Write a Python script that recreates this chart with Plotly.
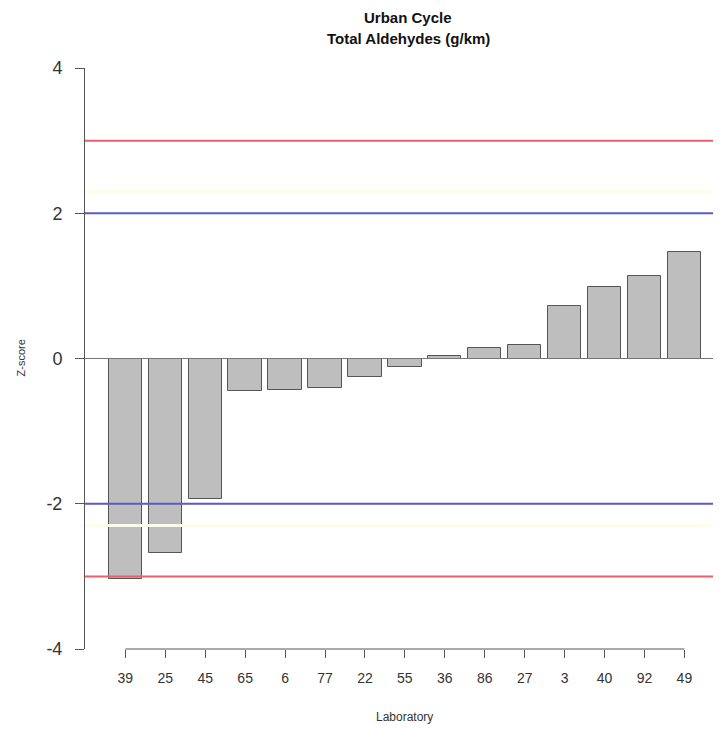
import plotly.graph_objects as go

# laboratories in plotted order and their z-scores
labs = ["39", "25", "45", "65", "6", "77", "22", "55", "36", "86", "27", "3", "40", "92", "49"]
zscores = [-3.03, -2.68, -1.93, -0.45, -0.43, -0.40, -0.26, -0.12, 0.03, 0.14, 0.18, 0.72, 0.99, 1.13, 1.46]

# reference lines
red_lines = [3, -3]
blue_lines = [2, -2]
yellow_lines = [2.3, -2.3]

yticks = [-4, -2, 0, 2, 4]

# R barplot style positions (width 1, space 0.2)
xpos = [0.7 + 1.2 * i for i in range(len(labs))]

fig = go.Figure()
fig.add_trace(go.Bar(x=xpos, y=zscores, width=1.0,
                     marker=dict(color="#BEBEBE", line=dict(color="#555555", width=1)),
                     showlegend=False, hoverinfo="y"))

shapes = []
for v in yellow_lines:
    shapes.append(dict(type="line", xref="paper", yref="y", x0=0, x1=1, y0=v, y1=v,
                       line=dict(color="#fffdea", width=3), layer="above"))
for v in blue_lines:
    shapes.append(dict(type="line", xref="paper", yref="y", x0=0, x1=1, y0=v, y1=v,
                       line=dict(color="#5a5ac8", width=2), layer="above"))
for v in red_lines:
    shapes.append(dict(type="line", xref="paper", yref="y", x0=0, x1=1, y0=v, y1=v,
                       line=dict(color="#e8606e", width=2), layer="above"))
# zero line
shapes.append(dict(type="line", xref="paper", yref="y", x0=0, x1=1, y0=0, y1=0,
                   line=dict(color="#777777", width=1), layer="above"))
# x axis line spanning first to last tick
shapes.append(dict(type="line", xref="x", yref="paper", x0=xpos[0], x1=xpos[-1], y0=0, y1=0,
                   line=dict(color="#555555", width=1), layer="above"))

annotations = [
    dict(text="<b>Urban Cycle</b>", xref="paper", yref="paper", x=0.508, y=1,
         xanchor="center", yanchor="middle", yshift=51, showarrow=False,
         font=dict(size=15, color="#111111")),
    dict(text="<b>Total Aldehydes (g/km)</b>", xref="paper", yref="paper", x=0.508, y=1,
         xanchor="center", yanchor="middle", yshift=30, showarrow=False,
         font=dict(size=15, color="#111111")),
    dict(text="Laboratory", xref="paper", yref="paper", x=0.503, y=0,
         xanchor="center", yanchor="middle", yshift=-68, showarrow=False,
         font=dict(size=12, color="#333333")),
    dict(text="Z-score", xref="paper", yref="paper", x=0, y=0.5, textangle=-90,
         xanchor="center", yanchor="middle", xshift=-65, showarrow=False,
         font=dict(size=11, color="#333333")),
]

fig.update_layout(
    width=713, height=721,
    margin=dict(l=77, r=0, t=60, b=80),
    plot_bgcolor="white", paper_bgcolor="white",
    font=dict(family="Liberation Sans, Arial, sans-serif", color="#222222"),
    shapes=shapes,
    annotations=annotations,
    bargap=0,
)

fig.update_xaxes(range=[-0.512, 18.6], tickvals=xpos, ticktext=labs,
                 ticks="outside", ticklen=8, tickcolor="#555555",
                 showline=False, showgrid=False, zeroline=False,
                 tickfont=dict(size=14, color="#333333"), ticklabelstandoff=8)

fig.update_yaxes(range=[-4, 4], tickvals=yticks, ticktext=[str(v) for v in yticks],
                 ticks="outside", ticklen=9, tickcolor="#555555",
                 showline=True, linecolor="#555555", linewidth=1,
                 showgrid=False, zeroline=False,
                 tickfont=dict(size=18, color="#333333"), ticklabelstandoff=9)

fig.write_html("out.html")
